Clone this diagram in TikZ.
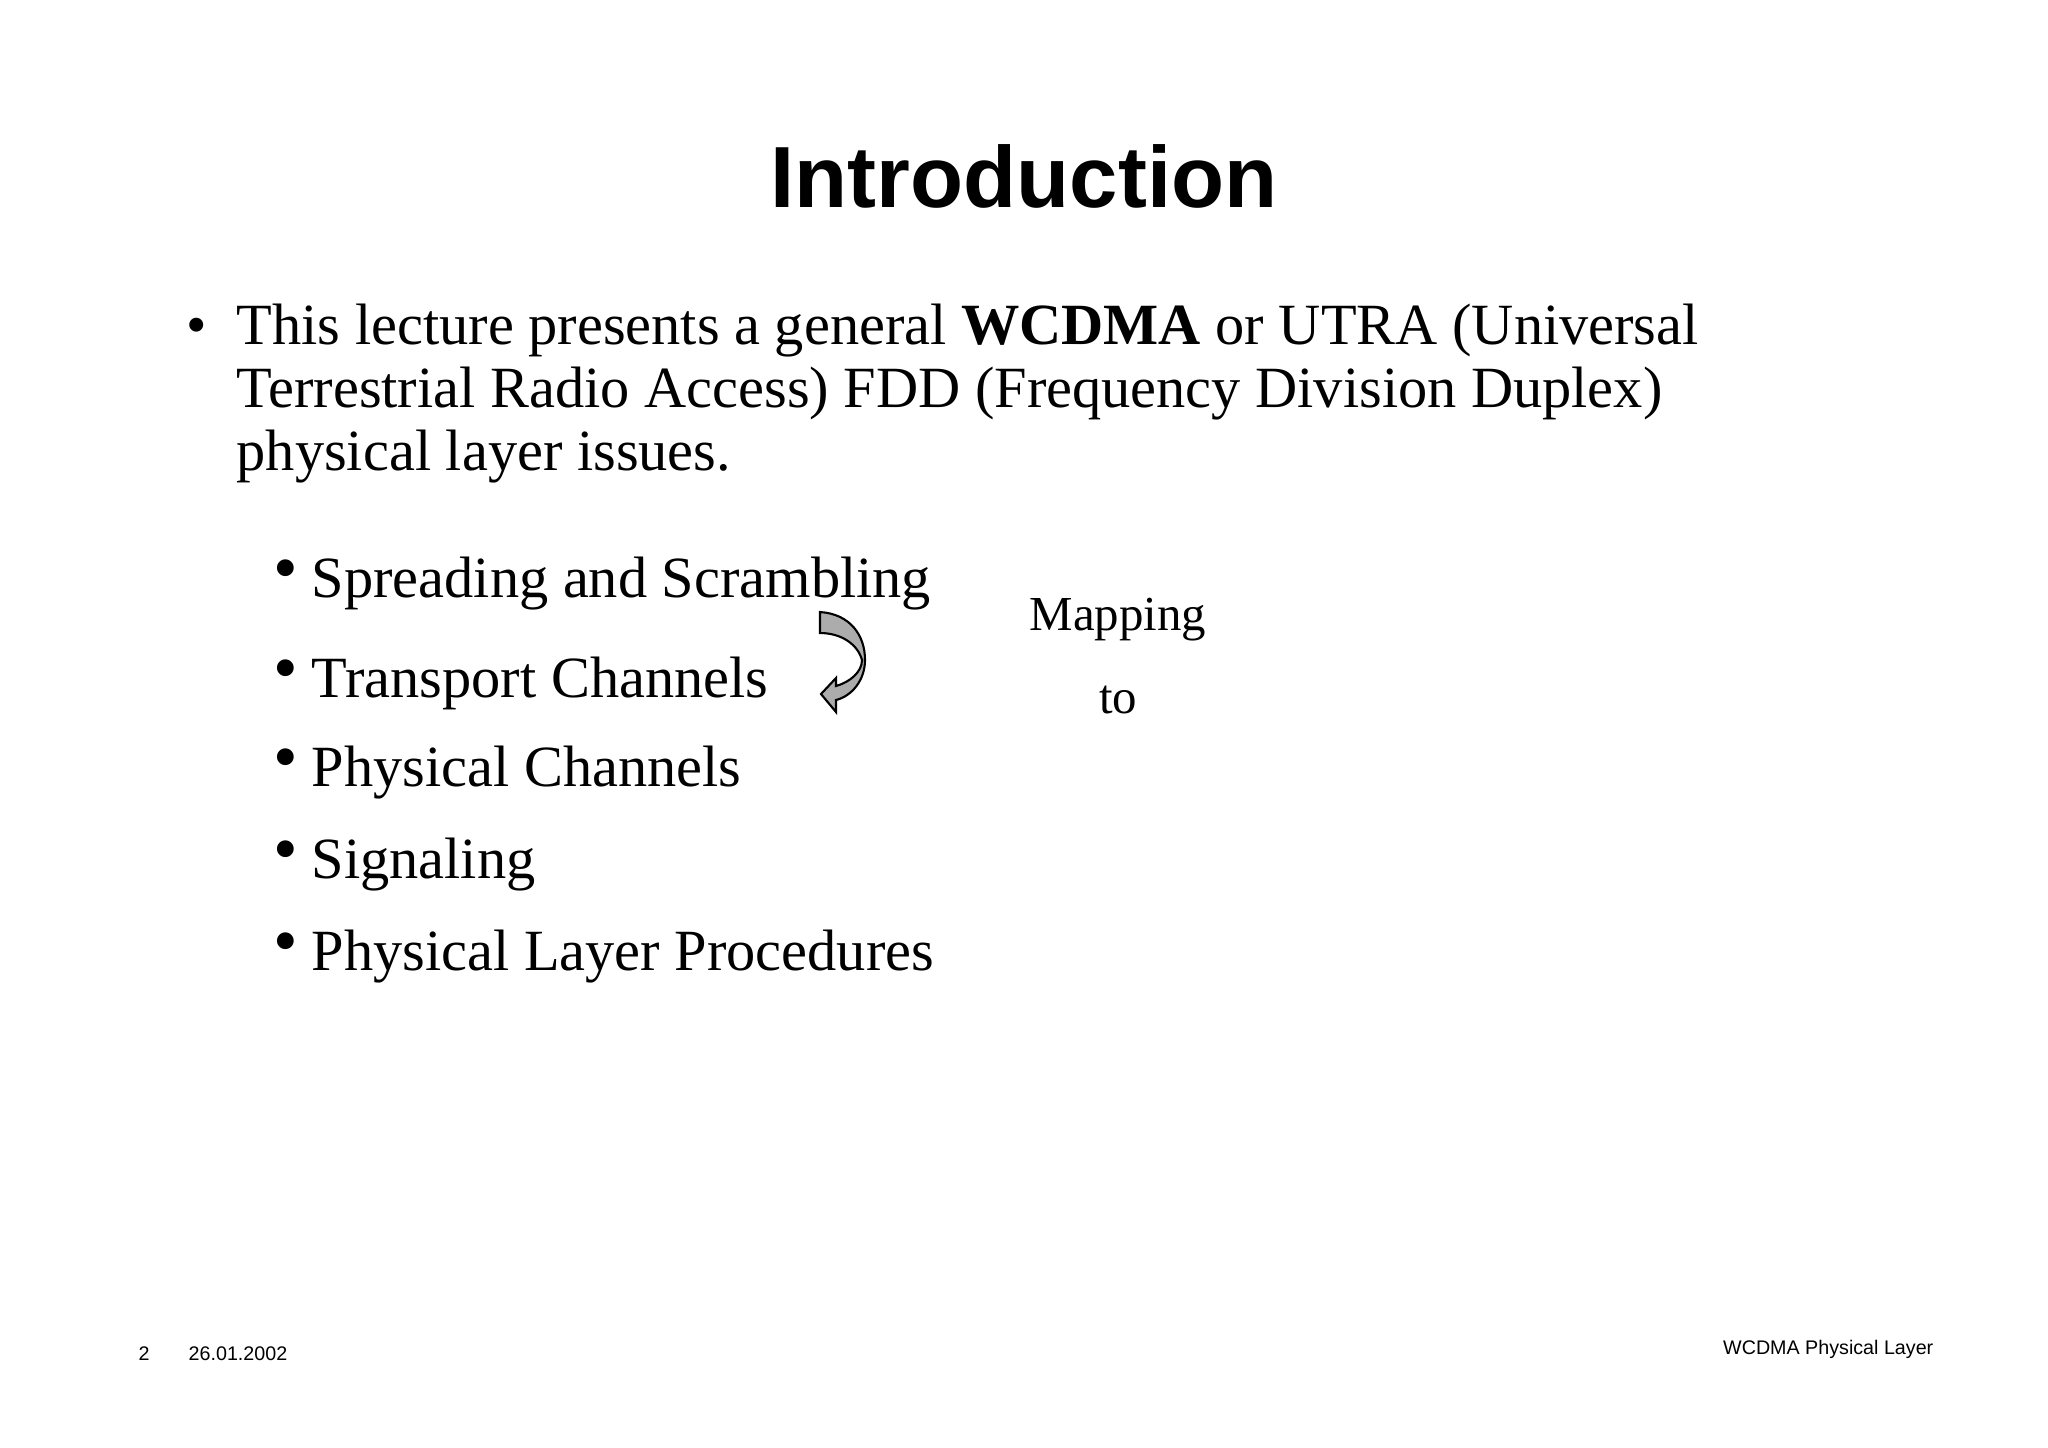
\documentclass[tikz,border=0pt]{standalone}
\usepackage{fontspec}
\setmainfont{Liberation Serif}
\newfontfamily\hfont{Liberation Sans}
\begin{document}
\begin{tikzpicture}[x=0.01cm,y=-0.01cm,
 body/.style={anchor=base west,inner sep=0pt,font=\fontsize{16.6}{20}\selectfont},
 sub/.style={anchor=base west,inner sep=0pt,font=\fontsize{16.6}{20}\selectfont},
 subb/.style={anchor=base west,inner sep=0pt,font=\fontsize{20}{20}\selectfont},
 foot/.style={inner sep=0pt,font=\hfont\fontsize{5.6}{7}\selectfont}]
\useasboundingbox[fill=white] (0,0) rectangle (2048,1447);
\node[anchor=base,inner sep=0pt,font=\hfont\bfseries\fontsize{24.7}{28}\selectfont] (title) at (1024,207) {Introduction};
\node[body] (b0) at (186,344) {\textbullet};
\node[body] (l1) at (236,344) {This lecture presents a general \textbf{WCDMA} or UTRA (Universal};
\node[body] (l2) at (236,407) {Terrestrial Radio Access) FDD (Frequency Division Duplex)};
\node[body] (l3) at (236,470) {physical layer issues.};
\foreach \n/\y/\t in {s1/597/Spreading and Scrambling, s2/697/Transport Channels, s3/786/Physical Channels, s4/878/Signaling, s5/970/Physical Layer Procedures}{
 \node[subb] (\n b) at (273,\y-6) {\textbullet};
 \node[sub] (\n) at (311,\y) {\t};
}
\node[anchor=base,inner sep=0pt,font=\fontsize{13.9}{16}\selectfont] (m1) at (1118,630) {Mapping};
\node[anchor=base,inner sep=0pt,font=\fontsize{13.9}{16}\selectfont] (m2) at (1118,713) {to};
\filldraw[fill=gray!65,draw=black,line width=0.6pt] (820,612) .. controls (850,614) and (865,635) .. (865,660) .. controls (865,680) and (852,696) .. (836,700) -- (836,712) -- (821,694) -- (836,678) -- (836,686) .. controls (850,682) and (862,672) .. (862,660) .. controls (858,645) and (842,633) .. (820,633) -- cycle;
\node[foot,anchor=base west] (pg) at (138,1360) {2};
\node[foot,anchor=base west] (dt) at (188,1360) {26.01.2002};
\node[foot,anchor=base east] (ft) at (1934,1354) {WCDMA Physical Layer};
\end{tikzpicture}
\end{document}
